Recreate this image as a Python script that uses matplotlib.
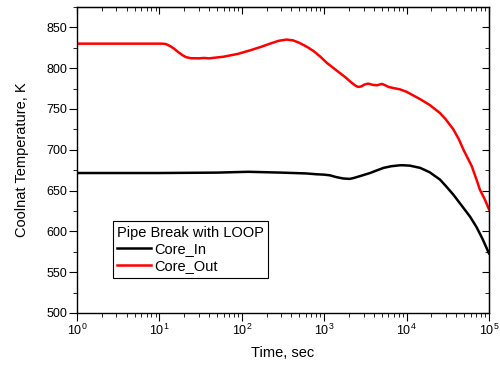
import numpy as np
import matplotlib.pyplot as plt
from matplotlib.ticker import MultipleLocator, LogLocator, NullFormatter

plt.rcParams['font.family'] = ['Liberation Sans', 'DejaVu Sans']
plt.rcParams['mathtext.fontset'] = 'custom'
plt.rcParams['mathtext.rm'] = 'Liberation Sans'
plt.rcParams['mathtext.it'] = 'Liberation Sans'

# Core outlet temperature (red)
t_out = [1, 11, 12, 13.5, 15, 17, 19, 21, 24, 30, 35, 40, 60, 90, 125, 170,
         220, 280, 350, 420, 500, 620, 741, 900, 1072, 1300, 1549, 1800, 2100,
         2400, 2570, 2800, 3100, 3428, 3900, 4365, 5012, 5500, 6026, 7000,
         8318, 10000, 14600, 19000, 25400, 30000, 36900, 43000, 49000, 55000,
         61700, 70800, 77600, 89100, 100000]
temp_out = [830, 830, 829.5, 827, 824, 819.5, 816, 813.5, 812.2, 812, 812.5,
            812, 814, 817.5, 821.7, 826, 830, 833.5, 835, 834, 831, 826, 821,
            814, 806.6, 800, 794, 789, 783, 778.5, 777, 777.5, 780, 781, 779.5,
            779, 780.7, 779, 777, 775.5, 774, 771, 762, 755, 745, 737, 725,
            713, 700, 690, 680, 663, 651, 639, 627]

# Core inlet temperature (black)
t_in = [1, 10, 50, 120, 300, 600, 800, 1000, 1170, 1400, 1700, 2040, 2300,
        2700, 3600, 4300, 5250, 6500, 8320, 9100, 11000, 14600, 19000, 25400,
        30000, 36900, 44700, 58900, 70800, 83200, 100000]
temp_in = [671.5, 671.5, 672, 673, 672, 671, 670, 669.5, 668.7, 666.5, 664.8,
           664.3, 665.5, 667.6, 671.5, 674.5, 677.8, 679.8, 681, 681, 680.5,
           677.8, 672.5, 663.5, 655.5, 645, 634, 618, 605, 591, 573]

fig = plt.figure(figsize=(5, 3.65), dpi=100)
ax = fig.add_axes([0.154, 0.1425, 0.824, 0.8385])

ax.plot(t_in, temp_in, color='black', lw=1.8, label='Core_In')
ax.plot(t_out, temp_out, color='red', lw=1.8, label='Core_Out')

ax.set_xscale('log')
ax.set_xlim(1, 1e5)
ax.set_ylim(500, 875)
ax.yaxis.set_major_locator(MultipleLocator(50))
ax.yaxis.set_minor_locator(MultipleLocator(25))
ax.xaxis.set_major_locator(LogLocator(base=10, numticks=10))
ax.xaxis.set_minor_locator(LogLocator(base=10, subs=np.arange(2, 10), numticks=20))
ax.xaxis.set_minor_formatter(NullFormatter())

ax.tick_params(which='both', direction='out', labelsize=9, top=False,
               right=False, pad=1.7)
ax.tick_params(which='major', length=5.5)
ax.tick_params(which='minor', length=3)
ax2 = ax.secondary_yaxis('right')
ax2.yaxis.set_major_locator(MultipleLocator(50))
ax2.yaxis.set_minor_locator(MultipleLocator(25))
ax2.tick_params(which='both', direction='in', labelright=False)
ax2.tick_params(which='major', length=5)
ax2.tick_params(which='minor', length=3)
ax3 = ax.secondary_xaxis('top')
ax3.xaxis.set_major_locator(LogLocator(base=10, numticks=10))
ax3.xaxis.set_minor_locator(LogLocator(base=10, subs=np.arange(2, 10), numticks=20))
ax3.tick_params(which='both', direction='in', labeltop=False)
ax3.tick_params(which='major', length=5)
ax3.tick_params(which='minor', length=3)

for sp in ax.spines.values():
    sp.set_linewidth(1.0)

ax.set_xlabel('Time, sec', fontsize=10.5)
ax.set_ylabel('Coolnat Temperature, K', fontsize=10.5)
ax.xaxis.set_label_coords(0.5, -0.108)
ax.yaxis.set_label_coords(-0.117, 0.5)

leg = ax.legend(title='Pipe Break with LOOP', loc='upper left',
                bbox_to_anchor=(0.087, 0.30), fontsize=10.5, title_fontsize=10.5,
                fancybox=False, edgecolor='black', framealpha=1,
                handlelength=2.3, handletextpad=0.25, borderpad=0.3,
                labelspacing=0.2, borderaxespad=0)
leg._legend_box.align = 'left'
leg.get_frame().set_linewidth(0.8)

fig.savefig('out.png', dpi=100)
